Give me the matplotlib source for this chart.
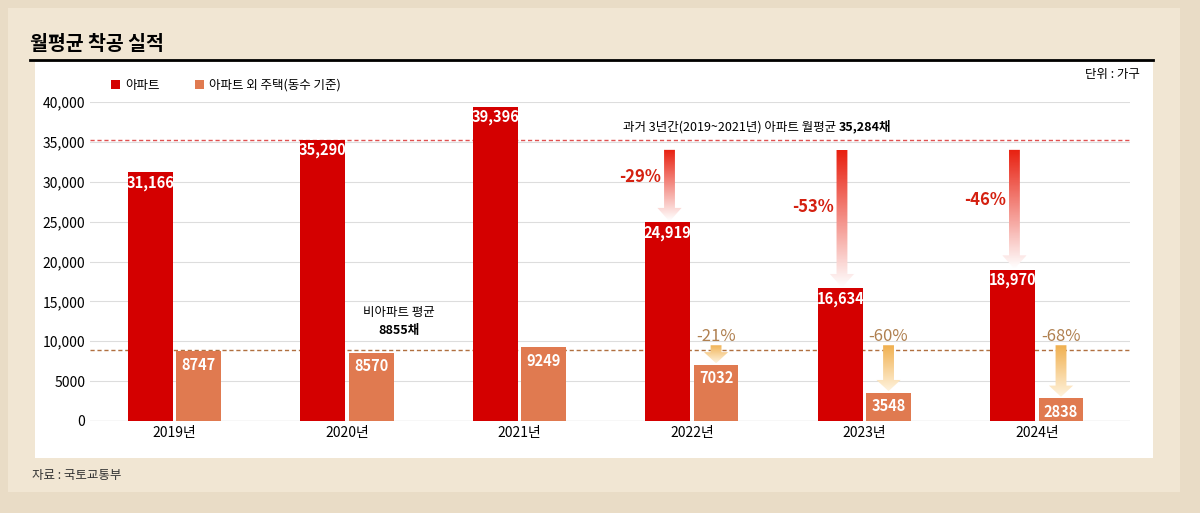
import matplotlib
matplotlib.use("Agg")
import matplotlib.pyplot as plt
import numpy as np
from matplotlib.patches import Rectangle, Polygon
from matplotlib import font_manager
from matplotlib.colors import LinearSegmentedColormap

names = sorted({f.name for f in font_manager.fontManager.ttflist if 'CJK' in f.name})
pref = [n for n in ['Noto Sans CJK KR', 'Noto Sans CJK JP', 'Noto Sans CJK SC', 'Noto Sans CJK TC'] if n in names] + names
plt.rcParams['font.family'] = pref + ['DejaVu Sans']

years = ['2019년', '2020년', '2021년', '2022년', '2023년', '2024년']
apt = [31166, 35290, 39396, 24919, 16634, 18970]
other = [8747, 8570, 9249, 7032, 3548, 2838]
apt_labels = ['31,166', '35,290', '39,396', '24,919', '16,634', '18,970']
apt_chg = ['-29%', '-53%', '-46%']
oth_chg = ['-21%', '-60%', '-68%']
apt_avg = 35284
oth_avg = 8855
yticks = [0, 5000, 10000, 15000, 20000, 25000, 30000, 35000, 40000]
ytlabels = ['0', '5000', '10,000', '15,000', '20,000', '25,000', '30,000', '35,000', '40,000']

RED = '#d40000'
BROWN = '#e07a50'

fig = plt.figure(figsize=(12, 5.13), dpi=100)
fig.patch.set_facecolor('#e9dcc6')
fig.patches.append(Rectangle((8/1200, 1-492/513), 1172/1200, 484/513, transform=fig.transFigure,
                             facecolor='#f1e6d3', edgecolor='none', zorder=-3))
fig.patches.append(Rectangle((35/1200, 1-458/513), 1118/1200, 396/513, transform=fig.transFigure,
                             facecolor='white', edgecolor='none', zorder=-2))
fig.add_artist(plt.Line2D([30/1200, 1153/1200], [1-60/513]*2, color='black', lw=2))
fig.text(30/1200, 1-45/513, '월평균 착공 실적', fontsize=14, fontweight='bold', va='center')
fig.text(32/1200, 1-475/513, '자료 : 국토교통부', fontsize=9, va='center', color='#333333')

ax = fig.add_axes([90/1200, 1-421/513, 1040/1200, 319/513])
ax.set_facecolor('none')
x = np.arange(len(years))
w = 0.26
ax.bar(x - 0.14, apt, w, color=RED, zorder=3)
ax.bar(x + 0.14, other, w, color=BROWN, zorder=3)
for i in x:
    ax.text(i - 0.14, apt[i] - 1300, apt_labels[i], color='white', fontsize=10.5, fontweight='bold',
            ha='center', va='center', zorder=4)
    ax.text(i + 0.14, other[i] - 1700, str(other[i]), color='white', fontsize=10.5, fontweight='bold',
            ha='center', va='center', zorder=4)
ax.set_yticks(yticks)
ax.set_yticklabels(ytlabels, fontsize=10)
ax.set_xticks(x)
ax.set_xticklabels(years, fontsize=10)
ax.tick_params(length=0)
ax.grid(axis='y', color='#dddddd', lw=0.8, zorder=0)
for s in ax.spines.values():
    s.set_visible(False)
ax.axhline(0, color='#999999', lw=0.8)
ax.axhline(apt_avg, color='#e05050', ls=(0, (3, 2)), lw=1, zorder=2)
ax.axhline(oth_avg, color='#b07040', ls=(0, (3, 2)), lw=1, zorder=2)
ax.text(3.85, 36900, '과거 3년간(2019~2021년) 아파트 월평균 ', fontsize=9, ha='right', va='center')
ax.text(3.85, 36900, '35,284채', fontsize=9, ha='left', va='center', fontweight='bold')
ax.text(1.3, 13600, '비아파트 평균', fontsize=9, ha='center', va='center')
ax.text(1.3, 11400, '8855채', fontsize=9, ha='center', va='center', fontweight='bold')

def grad_arrow(xc, ytop, ybot, hw, headh, c1, c2):
    sw = hw * 0.45
    pts = [(xc - sw, ytop), (xc + sw, ytop), (xc + sw, ybot + headh), (xc + hw, ybot + headh),
           (xc, ybot), (xc - hw, ybot + headh), (xc - sw, ybot + headh)]
    poly = Polygon(pts, closed=True, facecolor='none', edgecolor='none')
    ax.add_patch(poly)
    cm = LinearSegmentedColormap.from_list('g', [c2, c1])
    grad = np.linspace(0, 1, 100).reshape(-1, 1)
    im = ax.imshow(grad, extent=(xc - hw, xc + hw, ybot, ytop), origin='upper', cmap=cm,
                   aspect='auto', zorder=5)
    im.set_clip_path(poly)

for k, i in enumerate([3, 4, 5]):
    grad_arrow(i - 0.13, 34000, apt[i] + 100, 0.07, 1700, '#ffffff', '#e82010')
    ax.text(i - 0.30, [30600, 26800, 27700][k], apt_chg[k], color='#d42010', fontsize=12,
            fontweight='bold', ha='center', va='center')
    grad_arrow(i + 0.14, 9500, other[i] + 200, 0.07, 1400, '#fff3dd', '#f0b050')
    ax.text(i + 0.14, 10600, oth_chg[k], color='#b08050', fontsize=12, ha='center', va='center')
ax.set_xlim(-0.49, 5.54)
ax.set_ylim(0, 40000)

fig.patches.append(Rectangle((111/1200, 1-89/513), 9/1200, 9/513, transform=fig.transFigure, facecolor=RED))
fig.text(125/1200, 1-85/513, '아파트', fontsize=9, va='center')
fig.patches.append(Rectangle((195/1200, 1-89/513), 9/1200, 9/513, transform=fig.transFigure, facecolor=BROWN))
fig.text(209/1200, 1-85/513, '아파트 외 주택(동수 기준)', fontsize=9, va='center')
fig.text(1140/1200, 1-75/513, '단위 : 가구', fontsize=9, va='center', ha='right')

fig.savefig('out.png', dpi=100, facecolor=fig.get_facecolor())
